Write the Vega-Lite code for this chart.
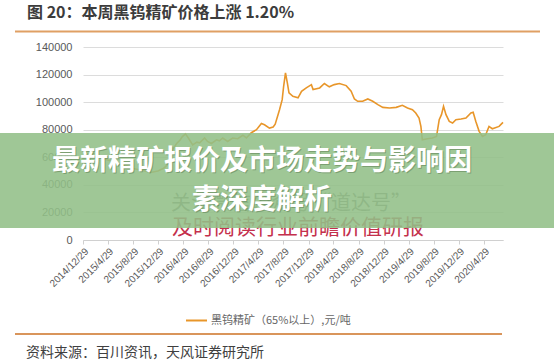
{
  "$schema": "https://vega.github.io/schema/vega-lite/v6.json",
  "autosize": "none",
  "width": 420,
  "height": 193,
  "padding": {"left": 83, "top": 47, "right": 51, "bottom": 122},
  "background": "white",
  "config": {
    "view": {"stroke": null},
    "font": "Noto Sans CJK SC"
  },
  "layer": [
    {
      "data": {"values": [
        {"d": "2014-12-29", "v": 64000}, {"d": "2015-01-26", "v": 62000}, {"d": "2015-02-23", "v": 63000},
        {"d": "2015-03-23", "v": 60000}, {"d": "2015-04-27", "v": 58000}, {"d": "2015-05-25", "v": 57000},
        {"d": "2015-06-29", "v": 55000}, {"d": "2015-07-27", "v": 54000}, {"d": "2015-08-24", "v": 52000},
        {"d": "2015-09-28", "v": 51000}, {"d": "2015-10-26", "v": 50000}, {"d": "2015-11-23", "v": 49000},
        {"d": "2015-12-28", "v": 50000}, {"d": "2016-01-25", "v": 52000}, {"d": "2016-02-22", "v": 56000},
        {"d": "2016-03-08", "v": 65500}, {"d": "2016-03-28", "v": 70000}, {"d": "2016-04-14", "v": 72500},
        {"d": "2016-04-25", "v": 75000}, {"d": "2016-05-10", "v": 77000}, {"d": "2016-05-24", "v": 74000},
        {"d": "2016-06-14", "v": 69000}, {"d": "2016-07-04", "v": 71000}, {"d": "2016-07-18", "v": 70500},
        {"d": "2016-08-11", "v": 74000}, {"d": "2016-08-25", "v": 71500}, {"d": "2016-09-13", "v": 70000},
        {"d": "2016-10-08", "v": 72700}, {"d": "2016-10-22", "v": 72000}, {"d": "2016-11-07", "v": 74000},
        {"d": "2016-12-01", "v": 71500}, {"d": "2016-12-25", "v": 74000}, {"d": "2017-01-19", "v": 73500},
        {"d": "2017-02-13", "v": 76000}, {"d": "2017-03-02", "v": 74000}, {"d": "2017-03-26", "v": 77800},
        {"d": "2017-04-20", "v": 80000}, {"d": "2017-05-14", "v": 84500}, {"d": "2017-05-29", "v": 83600},
        {"d": "2017-06-22", "v": 81200}, {"d": "2017-07-10", "v": 82000}, {"d": "2017-07-20", "v": 84000},
        {"d": "2017-08-10", "v": 94500}, {"d": "2017-08-23", "v": 101800}, {"d": "2017-08-30", "v": 111500},
        {"d": "2017-09-08", "v": 121200}, {"d": "2017-09-17", "v": 114000}, {"d": "2017-09-25", "v": 106700},
        {"d": "2017-10-14", "v": 104200}, {"d": "2017-11-08", "v": 103100}, {"d": "2017-11-25", "v": 107900},
        {"d": "2017-12-18", "v": 110300}, {"d": "2018-01-12", "v": 112700}, {"d": "2018-01-20", "v": 109100},
        {"d": "2018-02-21", "v": 110300}, {"d": "2018-03-16", "v": 113500}, {"d": "2018-04-09", "v": 111100},
        {"d": "2018-05-03", "v": 112700}, {"d": "2018-05-28", "v": 113500}, {"d": "2018-06-30", "v": 112000},
        {"d": "2018-07-24", "v": 107900}, {"d": "2018-08-09", "v": 102300}, {"d": "2018-08-25", "v": 100600},
        {"d": "2018-09-18", "v": 100600}, {"d": "2018-10-13", "v": 102300}, {"d": "2018-11-06", "v": 100600},
        {"d": "2018-12-01", "v": 98200}, {"d": "2018-12-25", "v": 96200}, {"d": "2019-01-27", "v": 95800},
        {"d": "2019-02-28", "v": 96200}, {"d": "2019-03-30", "v": 97700}, {"d": "2019-04-24", "v": 95800},
        {"d": "2019-05-18", "v": 94500}, {"d": "2019-06-03", "v": 92100}, {"d": "2019-06-19", "v": 88500},
        {"d": "2019-06-28", "v": 82400}, {"d": "2019-07-05", "v": 72700}, {"d": "2019-07-30", "v": 73500},
        {"d": "2019-08-23", "v": 74000}, {"d": "2019-09-12", "v": 75100}, {"d": "2019-09-25", "v": 87300},
        {"d": "2019-10-06", "v": 90900}, {"d": "2019-10-16", "v": 97000}, {"d": "2019-10-28", "v": 90900},
        {"d": "2019-11-13", "v": 86000}, {"d": "2019-11-29", "v": 84900}, {"d": "2019-12-15", "v": 87300},
        {"d": "2020-01-09", "v": 87800}, {"d": "2020-02-02", "v": 88500}, {"d": "2020-02-26", "v": 92100},
        {"d": "2020-03-08", "v": 92600}, {"d": "2020-03-21", "v": 86000}, {"d": "2020-04-06", "v": 78800},
        {"d": "2020-04-22", "v": 75100}, {"d": "2020-05-08", "v": 76400}, {"d": "2020-05-24", "v": 82400},
        {"d": "2020-06-09", "v": 80700}, {"d": "2020-07-12", "v": 82400}, {"d": "2020-07-31", "v": 85300}
      ]},
      "mark": {"type": "line", "strokeWidth": 1.6},
      "encoding": {
        "x": {
          "field": "d", "type": "temporal",
          "scale": {"type": "utc", "domain": [
            {"year": 2014, "month": 12, "date": 29, "utc": true},
            {"year": 2020, "month": 7, "date": 31, "utc": true}
          ]},
          "axis": {
            "title": null,
            "format": "%Y/%-m/%-d",
            "values": [
              {"year": 2014, "month": 12, "date": 29, "utc": true},
              {"year": 2015, "month": 4, "date": 29, "utc": true},
              {"year": 2015, "month": 8, "date": 29, "utc": true},
              {"year": 2015, "month": 12, "date": 29, "utc": true},
              {"year": 2016, "month": 4, "date": 29, "utc": true},
              {"year": 2016, "month": 8, "date": 29, "utc": true},
              {"year": 2016, "month": 12, "date": 29, "utc": true},
              {"year": 2017, "month": 4, "date": 29, "utc": true},
              {"year": 2017, "month": 8, "date": 29, "utc": true},
              {"year": 2017, "month": 12, "date": 29, "utc": true},
              {"year": 2018, "month": 4, "date": 29, "utc": true},
              {"year": 2018, "month": 8, "date": 29, "utc": true},
              {"year": 2018, "month": 12, "date": 29, "utc": true},
              {"year": 2019, "month": 4, "date": 29, "utc": true},
              {"year": 2019, "month": 8, "date": 29, "utc": true},
              {"year": 2019, "month": 12, "date": 29, "utc": true},
              {"year": 2020, "month": 4, "date": 29, "utc": true}
            ],
            "labelAngle": -45,
            "labelFont": "Liberation Sans",
            "labelFontSize": 10,
            "labelColor": "#595959",
            "labelOverlap": false,
            "labelFlush": false,
            "grid": false,
            "ticks": true,
            "tickSize": 4,
            "tickColor": "#d0d0d0",
            "domainColor": "#d0d0d0",
            "labelPadding": 2
          }
        },
        "y": {
          "field": "v", "type": "quantitative",
          "scale": {"domain": [0, 140000], "nice": false},
          "axis": {
            "title": null,
            "values": [0, 20000, 40000, 60000, 80000, 100000, 120000, 140000],
            "format": "d",
            "labelFont": "Liberation Sans",
            "labelFontSize": 11,
            "labelColor": "#595959",
            "labelPadding": 11,
            "domain": false,
            "ticks": false,
            "grid": true,
            "gridColor": "#dcdcdc"
          }
        },
        "color": {
          "datum": "黑钨精矿（65%以上）,元/吨",
          "scale": {"range": ["#e8962a"]},
          "legend": {
            "title": null,
            "orient": "none",
            "legendX": 102,
            "legendY": 262,
            "padding": 0,
            "symbolType": "stroke",
            "symbolSize": 441,
            "symbolStrokeWidth": 2,
            "labelFontSize": 11,
            "labelColor": "#666666",
            "labelOffset": 3
          }
        }
      }
    },
    {
      "data": {"values": [{"t": "关注微信公众号“道达号”"}]},
      "mark": {"type": "text", "fontSize": 20, "color": "#7d7d7d", "align": "center", "baseline": "middle"},
      "encoding": {"text": {"field": "t"}, "x": {"value": 208}, "y": {"value": 156.5}}
    },
    {
      "data": {"values": [{"t": "及时阅读行业前瞻价值研报"}]},
      "mark": {"type": "text", "fontSize": 21, "color": "#c4304c", "align": "center", "baseline": "middle"},
      "encoding": {"text": {"field": "t"}, "x": {"value": 215}, "y": {"value": 181}}
    },
    {
      "data": {"values": [{}]},
      "mark": {"type": "rect", "color": "#92bf87", "opacity": 0.88},
      "encoding": {"x": {"value": -83}, "x2": {"value": 471}, "y": {"value": 86}, "y2": {"value": 181}}
    },
    {
      "data": {"values": [{"t": "最新精矿报价及市场走势与影响因"}, {"t": "素深度解析"}]},
      "mark": {"type": "text", "fontSize": 28, "fontWeight": "bold", "color": "#5a7a50", "opacity": 0.5, "align": "center", "baseline": "middle", "dx": 1, "dy": 1},
      "encoding": {
        "text": {"field": "t"},
        "x": {"value": 179},
        "y": {"field": "t", "type": "nominal", "scale": {"type": "point", "padding": 0, "domain": ["最新精矿报价及市场走势与影响因", "素深度解析"], "range": [115, 154]}, "axis": null}
      }
    },
    {
      "data": {"values": [{"t": "最新精矿报价及市场走势与影响因"}, {"t": "素深度解析"}]},
      "mark": {"type": "text", "fontSize": 28, "fontWeight": "bold", "color": "white", "align": "center", "baseline": "middle"},
      "encoding": {
        "text": {"field": "t"},
        "x": {"value": 179},
        "y": {"field": "t", "type": "nominal", "scale": {"type": "point", "padding": 0, "domain": ["最新精矿报价及市场走势与影响因", "素深度解析"], "range": [115, 154]}, "axis": null}
      }
    },
    {
      "data": {"values": [{}]},
      "mark": {"type": "rule", "color": "#e0a064", "strokeWidth": 2},
      "encoding": {"x": {"value": -68}, "x2": {"value": 457}, "y": {"value": -15.5}}
    },
    {
      "data": {"values": [{}]},
      "mark": {"type": "rule", "color": "#d9955b", "strokeWidth": 2},
      "encoding": {"x": {"value": -68}, "x2": {"value": 419}, "y": {"value": 287}}
    },
    {
      "data": {"values": [{"t": "图 20：本周黑钨精矿价格上涨 1.20%"}]},
      "mark": {"type": "text", "fontSize": 16, "fontWeight": "bold", "color": "#3c3c3c", "align": "left", "baseline": "middle"},
      "encoding": {"text": {"field": "t"}, "x": {"value": -56}, "y": {"value": -34.5}}
    },
    {
      "data": {"values": [{"t": "资料来源：百川资讯，天风证券研究所"}]},
      "mark": {"type": "text", "fontSize": 14, "color": "#404040", "align": "left", "baseline": "middle"},
      "encoding": {"text": {"field": "t"}, "x": {"value": -57}, "y": {"value": 306}}
    }
  ]
}
